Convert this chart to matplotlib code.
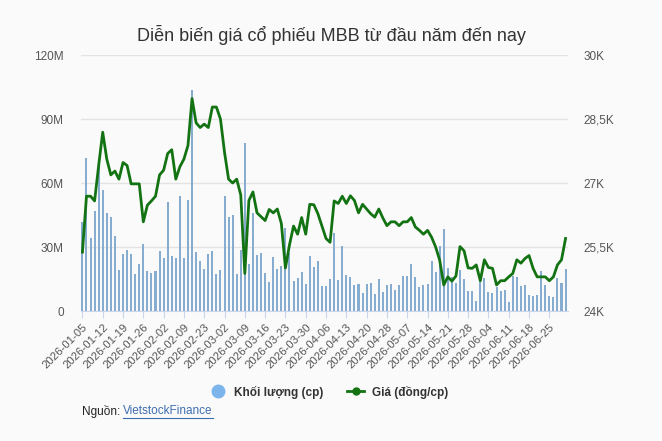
import matplotlib
matplotlib.use("Agg")
import matplotlib.pyplot as plt
from matplotlib.lines import Line2D
import numpy as np
import pandas as pd

plt.rcParams['font.family'] = ['Liberation Sans', 'DejaVu Sans']

# ngày giao dịch (bỏ nghỉ Tết, 27/4, 30/4, 1/5)
holidays = ['2026-02-16', '2026-02-17', '2026-02-18', '2026-02-19', '2026-02-20',
            '2026-04-27', '2026-04-30', '2026-05-01']
dates = pd.bdate_range('2026-01-05', '2026-07-01', freq='C', holidays=holidays)

# khối lượng (triệu cp)
volume_m = [41.8, 71.8, 34.2, 46.8, 69.2, 56.5, 46.1, 44.2, 35.0, 19.4,
            26.6, 28.8, 26.6, 17.5, 22.2, 31.3, 18.6, 17.7, 18.6, 28.0,
            25.0, 50.9, 25.9, 25.0, 53.8, 24.7, 51.9, 103.8, 27.5, 23.3,
            19.8, 26.6, 28.0, 17.5, 19.1, 53.8, 44.0, 44.8, 17.3, 28.5,
            78.6, 22.0, 45.8, 26.2, 27.0, 17.6, 13.5, 25.2, 19.6, 21.0,
            38.8, 27.2, 14.1, 15.5, 18.3, 12.7, 25.8, 20.6, 23.4, 11.7,
            11.7, 15.0, 36.6, 14.5, 30.5, 16.9, 15.9, 12.2, 12.7, 8.4,
            12.7, 13.1, 8.0, 15.0, 8.9, 12.2, 12.7, 9.8, 12.2, 16.4,
            16.4, 22.0, 15.9, 11.3, 12.2, 12.7, 23.4, 18.3, 30.5, 38.4,
            20.2, 15.9, 13.1, 19.2, 15.0, 9.4, 9.4, 4.7, 15.0, 15.5,
            8.9, 8.4, 11.3, 9.4, 9.8, 4.2, 16.4, 15.9, 11.7, 12.2,
            7.5, 7.0, 7.5, 18.8, 12.2, 7.0, 6.6, 15.5, 13.1, 19.7]

# giá (nghìn đồng/cp)
price_k = [25.38, 26.69, 26.69, 26.58, 27.41, 28.19, 27.56, 27.19, 27.28, 27.09,
           27.48, 27.41, 26.98, 26.98, 26.98, 26.09, 26.48, 26.58, 26.69, 27.19,
           27.30, 27.69, 27.78, 27.09, 27.38, 27.56, 27.88, 28.98, 28.41, 28.30,
           28.38, 28.30, 28.78, 28.78, 28.50, 27.72, 27.09, 27.00, 27.09, 26.72,
           24.88, 26.59, 26.79, 26.30, 26.21, 26.12, 26.38, 26.30, 26.39, 26.05,
           25.01, 25.55, 25.99, 25.80, 26.19, 25.80, 26.50, 26.49, 26.28, 25.99,
           25.70, 25.61, 26.58, 26.52, 26.69, 26.52, 26.70, 26.59, 26.30, 26.50,
           26.39, 26.28, 26.20, 26.39, 26.18, 26.00, 26.09, 26.09, 26.00, 26.09,
           26.09, 26.19, 25.97, 25.89, 25.80, 25.89, 25.73, 25.50, 25.19, 24.61,
           24.80, 24.70, 24.82, 25.51, 25.41, 25.01, 25.00, 25.08, 24.71, 25.20,
           25.02, 25.00, 24.61, 24.71, 24.71, 24.80, 24.88, 25.20, 25.12, 25.23,
           25.30, 25.00, 24.80, 24.80, 24.80, 24.71, 24.80, 25.08, 25.20, 25.70]

vol_ticks = [0, 30, 60, 90, 120]
vol_labels = ['0', '30M', '60M', '90M', '120M']
price_ticks = [24, 25.5, 27, 28.5, 30]
price_labels = ['24K', '25,5K', '27K', '28,5K', '30K']

bar_color = '#86acd0'
line_color = '#137313'
text_color = '#555555'
axis_color = '#ccd6eb'

fig = plt.figure(figsize=(6.62, 4.41), dpi=100, facecolor='#fafafa')
ax = fig.add_axes([81 / 662, 1 - 311 / 441, 487 / 662, 256 / 441])
ax.set_facecolor('#fafafa')

x = np.arange(len(dates))
ax.bar(x, volume_m, width=0.5, color=bar_color, zorder=2)
ax.set_ylim(0, 120)
ax.set_xlim(-0.35, len(dates) - 0.4)
ax.set_yticks(vol_ticks)
ax.set_yticklabels(vol_labels)
ax.grid(axis='y', color='#e3e3e3', linewidth=1, zorder=0)
ax.set_axisbelow(True)

tick_pos = x[::5]
ax.set_xticks(tick_pos)
ax.set_xticklabels([d.strftime('%Y-%m-%d') for d in dates[::5]],
                   rotation=45, ha='right', rotation_mode='anchor')

for s in ['top', 'left', 'right']:
    ax.spines[s].set_visible(False)
ax.spines['bottom'].set_color(axis_color)
ax.tick_params(axis='x', colors=axis_color, length=5, labelcolor=text_color,
               labelsize=8.2, pad=3)
ax.tick_params(axis='y', length=0, labelcolor=text_color, labelsize=8.5, pad=12.5)

ax2 = ax.twinx()
ax2.plot(x, price_k, color=line_color, linewidth=2)
ax2.set_ylim(24, 30)
ax2.set_yticks(price_ticks)
ax2.set_yticklabels(price_labels)
ax2.tick_params(axis='y', length=0, labelcolor=text_color, labelsize=8.5, pad=11)
for s in ['top', 'left', 'right', 'bottom']:
    ax2.spines[s].set_visible(False)

fig.text(0.5, 1 - 35 / 441, 'Diễn biến giá cổ phiếu MBB từ đầu năm đến nay',
         ha='center', va='center', fontsize=13, color='#333333')

handles = [
    Line2D([], [], marker='o', linestyle='none', markersize=9,
           markerfacecolor='#7cb5ec', markeredgecolor='#7cb5ec'),
    Line2D([], [], marker='o', color=line_color, linewidth=2, markersize=5),
]
leg = fig.legend(handles, ['Khối lượng (cp)', 'Giá (đồng/cp)'], ncol=2,
                 loc='center', bbox_to_anchor=(0.496, 1 - 392 / 441),
                 frameon=False, handlelength=1.5, columnspacing=2.0,
                 handletextpad=0.6, prop={'weight': 'bold', 'size': 8.5})
for t in leg.get_texts():
    t.set_color('#333333')

src = fig.text(82 / 662, 1 - 411 / 441, 'Nguồn:', ha='left', va='center',
               fontsize=8.5, color='#222222')
fig.canvas.draw()
bb = src.get_window_extent()
x0 = (bb.x1 + 3) / fig.bbox.width
link = fig.text(x0, 1 - 411 / 441, 'VietstockFinance', ha='left', va='center',
                fontsize=8.5, color='#3f6eb0')
fig.canvas.draw()
lb = link.get_window_extent()
fig.add_artist(Line2D([lb.x0 / fig.bbox.width, lb.x1 / fig.bbox.width],
                      [(lb.y0 - 1) / fig.bbox.height] * 2,
                      color='#3f6eb0', linewidth=0.8))

fig.savefig('out.png', dpi=100, facecolor=fig.get_facecolor())
